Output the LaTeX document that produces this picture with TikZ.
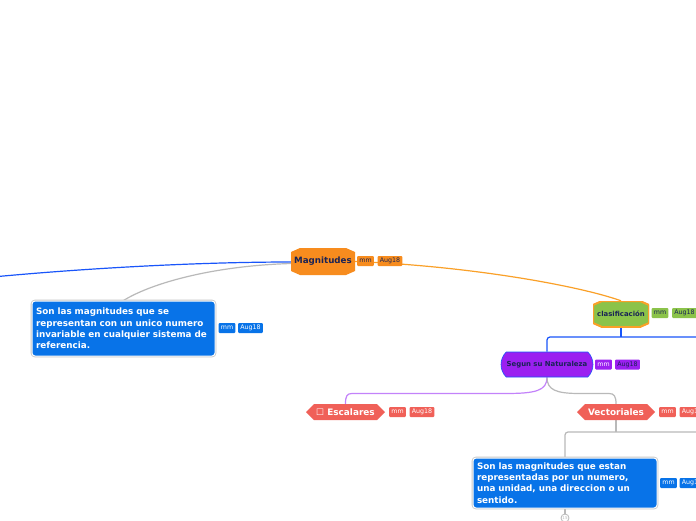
\documentclass[tikz,border=0pt]{standalone}
\usepackage{fontspec}
\setmainfont{DejaVu Sans}
\usetikzlibrary{shapes.misc,calc}
\pgfdeclarelayer{background}
\pgfsetlayers{background,main}
\definecolor{morange}{RGB}{247,140,30}
\definecolor{mnavy}{RGB}{25,35,85}
\definecolor{mgreen}{RGB}{139,195,74}
\definecolor{mpurple}{RGB}{155,32,240}
\definecolor{msalmon}{RGB}{240,96,88}
\definecolor{mblue}{RGB}{8,115,232}
\definecolor{mline}{RGB}{185,185,185}
\definecolor{mlineblue}{RGB}{25,85,250}
\definecolor{mviolet}{RGB}{195,130,250}
\definecolor{mlorange}{RGB}{250,160,40}
\tikzset{
  octa/.style={rectangle, inner sep=0pt,
    path picture={\path[#1]
      ($(path picture bounding box.north west)+(9pt,0pt)$) --
      ($(path picture bounding box.north east)+(-9pt,0pt)$) --
      ($(path picture bounding box.north east)+(0pt,-4pt)$) --
      ($(path picture bounding box.south east)+(0pt,4pt)$) --
      ($(path picture bounding box.south east)+(-9pt,0pt)$) --
      ($(path picture bounding box.south west)+(9pt,0pt)$) --
      ($(path picture bounding box.south west)+(0pt,4pt)$) --
      ($(path picture bounding box.north west)+(0pt,-4pt)$) -- cycle;}},
  hexa/.style={rectangle, inner sep=0pt,
    path picture={\path[#1]
      (path picture bounding box.west) --
      ($(path picture bounding box.north west)+(8pt,0pt)$) --
      ($(path picture bounding box.north east)+(-8pt,0pt)$) --
      (path picture bounding box.east) --
      ($(path picture bounding box.south east)+(-8pt,0pt)$) --
      ($(path picture bounding box.south west)+(8pt,0pt)$) -- cycle;}},
  tag/.style 2 args={rectangle, rounded corners=1pt, fill=#1, text=#2,
    font=\fontsize{6.3}{6.3}\selectfont, inner xsep=2.3pt, inner ysep=0pt,
    minimum height=10pt},
  infobox/.style={rectangle, rounded corners=3pt, fill=mblue, draw=white,
    line width=1pt, preaction={draw=black!22, line width=2.6pt},
    text=white, font=\bfseries\fontsize{8.8}{11.2}\selectfont,
    align=left, inner xsep=4pt, inner ysep=3pt},
  conn/.style={line width=1.2pt},
}
\begin{document}
\begin{tikzpicture}[x=1pt,y=-1pt]
\useasboundingbox (0,0) rectangle (696,520);
\clip (0,0) rectangle (696,520);
\begin{pgfonlayer}{background}
\fill[white] (0,0) rectangle (696,520);
\end{pgfonlayer}

% free ends
\coordinate (offL) at (-2,276.5);
\coordinate (offR1) at (700,337);
\coordinate (offR2) at (700,432);

% nodes
\node[octa={fill=morange}, minimum width=64pt, minimum height=27pt,
  text=mnavy, font=\bfseries\fontsize{8.7}{9}\selectfont] (mag) at (323,261.5) {Magnitudes};
\node[tag={morange}{mnavy}] (magmm) at (365.5,261) {mm};
\node[tag={morange}{mnavy}] (magaug) at (390,261) {Aug18};

\node[infobox, text width=175pt, minimum height=55pt] (box1) at (123.5,328.5)
  {Son las magnitudes que se\\representan con un unico numero\\invariable en cualquier sistema de\\referencia.};
\node[tag={mblue}{white}] (b1mm) at (227,328) {mm};
\node[tag={mblue}{white}] (b1aug) at (250.5,328) {Aug18};

\node[octa={fill=mgreen, draw=mlorange, line width=2pt}, minimum width=56pt, minimum height=26pt,
  text=mnavy, font=\bfseries\fontsize{6.9}{7}\selectfont] (clas) at (621,314) {clasificación};
\node[tag={mgreen}{mnavy}] (clmm) at (660,313) {mm};
\node[tag={mgreen}{mnavy}] (claug) at (684.5,313) {Aug18};

\node[rounded rectangle, rounded rectangle arc length=90, fill=mpurple, draw=mlineblue, line width=0.6pt,
  minimum width=92pt, minimum height=25pt, inner sep=0pt,
  text=mnavy, font=\bfseries\fontsize{6.9}{7}\selectfont] (seg) at (547,364.5) {Segun su Naturaleza};
\node[tag={mpurple}{white}] (segmm) at (603.5,364.5) {mm};
\node[tag={mpurple}{mnavy}] (segaug) at (627.5,364.5) {Aug18};

\node[hexa={fill=msalmon}, minimum width=79pt, minimum height=16pt,
  text=white, font=\bfseries\fontsize{8.9}{9}\selectfont] (esc) at (345.5,412) {☐ Escalares};
\node[tag={msalmon}{white}] (escmm) at (397.5,412) {mm};
\node[tag={msalmon}{white}] (escaug) at (422,412) {Aug18};

\node[hexa={fill=msalmon}, minimum width=78pt, minimum height=16pt,
  text=white, font=\bfseries\fontsize{8.9}{9}\selectfont] (vec) at (616,412) {Vectoriales};
\node[tag={msalmon}{white}] (vecmm) at (667.5,412) {mm};
\node[tag={msalmon}{white}] (vecaug) at (692,412) {Aug18};

\node[infobox, text width=176pt, minimum height=50pt] (box2) at (565,483)
  {Son las magnitudes que estan\\representadas por un numero,\\una unidad, una direccion o un\\sentido.};
\node[tag={mblue}{white}] (b2mm) at (668.5,483) {mm};
\node[tag={mblue}{white}] (b2aug) at (692,483) {Aug18};

\node[circle, draw=mline, fill=white, line width=0.8pt, minimum size=8pt, inner sep=0pt,
  text=mline, font=\fontsize{4}{4}\selectfont] (more) at (565,518) {15};

% connectors (behind the nodes)
\begin{pgfonlayer}{background}
\draw[conn, mlineblue] ([yshift=-0.5pt]mag.west) .. controls (200,262) and (90,268) .. (offL);
\draw[conn, mline] ([yshift=-2pt]mag.west) .. controls (210,266) and (150,284) .. (box1.north);
\draw[conn, mlorange] (mag.east) .. controls (470,266) and (580,286) .. (clas.north);
\draw[conn, mlineblue] (clas.south) -- (clas.south |- offR1);
\draw[conn, mlineblue, rounded corners=3pt] (offR1) -- (seg.north |- offR1) -- (seg.north);
\draw[conn, mviolet] (seg.south) .. controls (547,391) and (535,393.5) .. (505,393.5)
  -- (352,393.5) .. controls (347,393.5) and (345.5,396) .. (esc.north);
\draw[conn, mline] (seg.south) .. controls (547,390) and (556,393.5) .. (580,393.5)
  -- (609,393.5) .. controls (614,393.5) and (616,396) .. (vec.north);
\draw[conn, mline] (vec.south) -- (vec.south |- offR2);
\draw[conn, mline, rounded corners=3pt] (offR2) -- (box2.north |- offR2) -- (box2.north);
\draw[conn, mline] (box2.south) -- (more.north);
\end{pgfonlayer}
\end{tikzpicture}
\end{document}
